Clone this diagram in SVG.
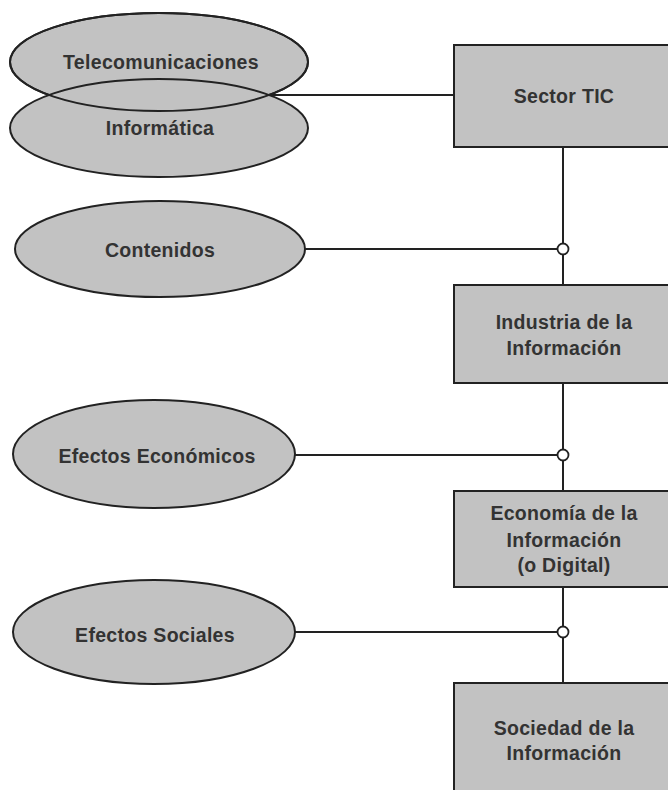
<svg xmlns="http://www.w3.org/2000/svg" width="668" height="790" viewBox="0 0 668 790">
<style>
.shape{fill:#c2c2c2;stroke:#222;stroke-width:2}
.outline{fill:none;stroke:#222;stroke-width:2}
.line{fill:none;stroke:#222;stroke-width:2}
.jn{fill:#fff;stroke:#222;stroke-width:1.8}
text{font-family:"Liberation Sans",Arial,sans-serif;font-weight:bold;font-size:19.5px;letter-spacing:0.3px;fill:#333;text-anchor:middle}
</style>
<rect x="0" y="0" width="668" height="790" fill="#fff"/>
<g id="connectors">
<line class="line" x1="269" y1="95" x2="454" y2="95"/>
<line class="line" x1="305" y1="249" x2="563" y2="249"/>
<line class="line" x1="295" y1="455" x2="563" y2="455"/>
<line class="line" x1="295" y1="632" x2="563" y2="632"/>
<line class="line" x1="563" y1="147" x2="563" y2="285"/>
<line class="line" x1="563" y1="383" x2="563" y2="491"/>
<line class="line" x1="563" y1="587" x2="563" y2="683"/>
<circle class="jn" cx="563" cy="249" r="5.5"/>
<circle class="jn" cx="563" cy="455" r="5.5"/>
<circle class="jn" cx="563" cy="632" r="5.5"/>
</g>
<g id="telecomunicaciones">
<ellipse class="shape" cx="159" cy="62" rx="149" ry="49"/>
</g>
<g id="informatica">
<ellipse class="shape" cx="159" cy="128" rx="149" ry="49"/>
<ellipse class="outline" cx="159" cy="62" rx="149" ry="49"/>
<text x="161" y="69">Telecomunicaciones</text>
<text x="160" y="135">Informática</text>
</g>
<g id="contenidos">
<ellipse class="shape" cx="160" cy="249" rx="145" ry="48"/>
<text x="160" y="257">Contenidos</text>
</g>
<g id="efectos-economicos">
<ellipse class="shape" cx="154" cy="454" rx="141" ry="54"/>
<text x="157" y="463">Efectos Económicos</text>
</g>
<g id="efectos-sociales">
<ellipse class="shape" cx="154" cy="632" rx="141" ry="52"/>
<text x="155" y="642">Efectos Sociales</text>
</g>
<g id="sector-tic">
<rect class="shape" x="454" y="45" width="222" height="102"/>
<text x="564" y="103">Sector TIC</text>
</g>
<g id="industria">
<rect class="shape" x="454" y="285" width="222" height="98"/>
<text x="564" y="329">Industria de la</text>
<text x="564" y="355">Información</text>
</g>
<g id="economia">
<rect class="shape" x="454" y="491" width="222" height="96"/>
<text x="564" y="520">Economía de la</text>
<text x="564" y="547">Información</text>
<text x="564" y="572">(o Digital)</text>
</g>
<g id="sociedad">
<rect class="shape" x="454" y="683" width="222" height="120"/>
<text x="564" y="735">Sociedad de la</text>
<text x="564" y="760">Información</text>
</g>
</svg>
